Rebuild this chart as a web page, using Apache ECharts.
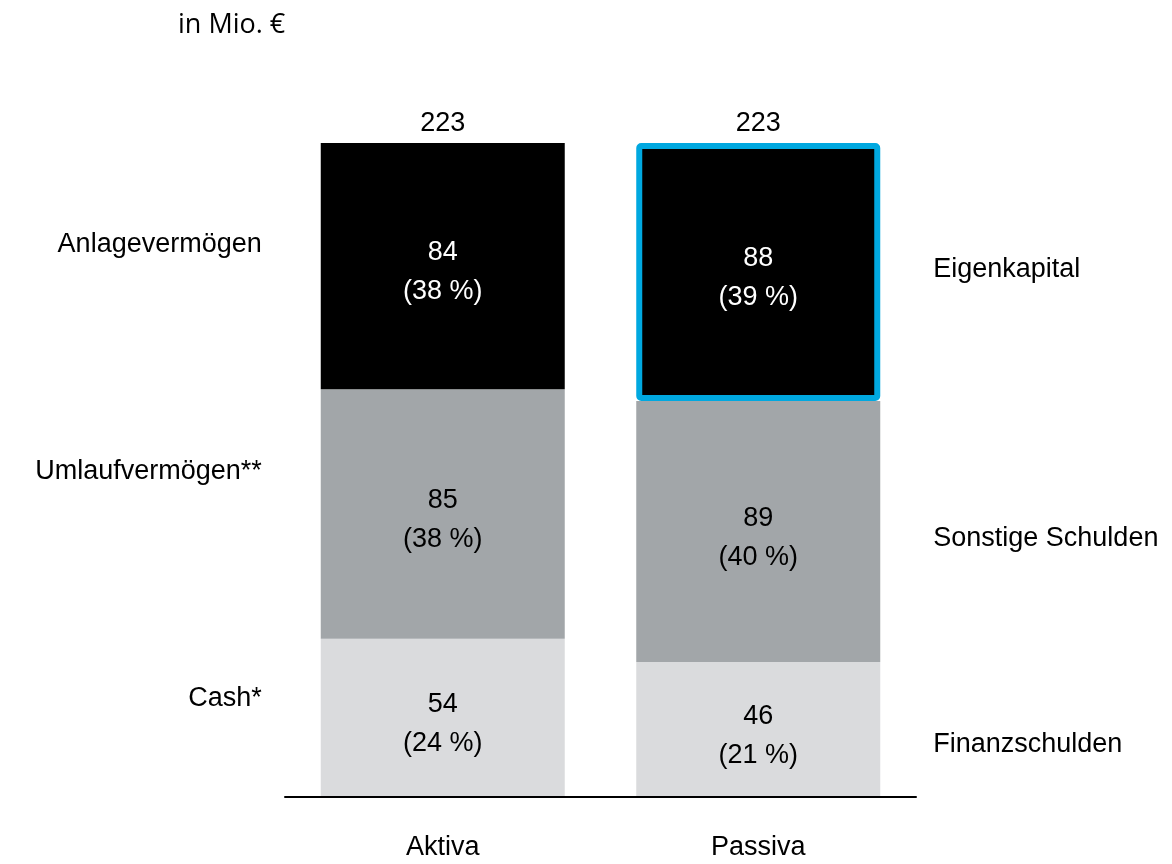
<!DOCTYPE html>
<html>
<head>
<meta charset="utf-8">
<script src="https://cdn.jsdelivr.net/npm/echarts@6/dist/echarts.min.js"></script>
<style>
    html, body { margin: 0; padding: 0; background: #fff; }
    #bilanz { width: 1172px; height: 864px; }
</style>
</head>
<body>
<div id="bilanz"></div>
<script type="text/javascript">
    // Bilanzstruktur in Mio. €
    var categories = ['Aktiva', 'Passiva'];
    // Schichten von unten nach oben
    var bottomValues = [54, 46];
    var middleValues = [85, 89];
    var topValues = [84, 88];
    var bottomPct = [24, 21];
    var middlePct = [38, 40];
    var topPct = [38, 39];
    var totals = [223, 223];
    var aktivaNames = ['Cash*', 'Umlaufvermögen**', 'Anlagevermögen'];
    var passivaNames = ['Finanzschulden', 'Sonstige Schulden', 'Eigenkapital'];

    var font = 'Liberation Sans';
    var barW = 244;

    function layer(name, values, pct, color, textColor) {
        return {
            name: name,
            type: 'bar',
            stack: 'main',
            barWidth: barW,
            barGap: '-100%',
            data: values.map(function (v, i) {
                var item = { value: v };
                // Eigenkapital blau umrandet
                if (name === 'top' && i === 1) {
                    item.itemStyle = { borderColor: '#00a8e0', borderWidth: 6, borderRadius: 2 };
                }
                return item;
            }),
            itemStyle: { color: color },
            label: {
                show: true,
                position: 'inside',
                color: textColor,
                fontFamily: font,
                fontSize: 27,
                lineHeight: 39,
                offset: [0, 6],
                formatter: function (p) {
                    return p.value + '\n(' + pct[p.dataIndex] + ' %)';
                }
            },
            emphasis: { disabled: true },
            silent: true
        };
    }

    // unsichtbare Schichten nur für die Beschriftung links/rechts
    var leftOffsets = [[0, -19], [0, -42], [0, -22]];
    var rightOffsets = [[0, 15], [0, 7], [0, -2]];
    function sideLayer(values, idx) {
        return {
            type: 'bar',
            stack: 'side',
            barWidth: barW,
            barGap: '-100%',
            itemStyle: { color: 'rgba(0,0,0,0)' },
            data: values.map(function (v, i) {
                return {
                    value: v,
                    label: i === 0
                        ? { position: 'left', distance: 59, offset: leftOffsets[idx], formatter: aktivaNames[idx] }
                        : { position: 'right', distance: 53, offset: rightOffsets[idx], formatter: passivaNames[idx] }
                };
            }),
            label: { show: true, color: '#000', fontFamily: font, fontSize: 27 },
            emphasis: { disabled: true },
            silent: true
        };
    }

    var chart = echarts.init(document.getElementById('bilanz'));
    chart.setOption({
        animation: false,
        title: {
            text: 'in Mio. €',
            left: 173,
            top: 7,
            textStyle: { fontFamily: 'Open Sans', fontSize: 27, fontWeight: 'normal', color: '#000' }
        },
        grid: { left: 285, right: 256, top: 143, bottom: 67 },
        xAxis: {
            type: 'category',
            data: categories,
            z: 10,
            axisLine: { lineStyle: { color: '#000', width: 2 } },
            axisTick: { show: false },
            axisLabel: { margin: 37, color: '#000', fontFamily: font, fontSize: 27 }
        },
        yAxis: {
            type: 'value',
            min: 0,
            max: 223,
            show: false,
            splitLine: { show: false }
        },
        series: [
            layer('bottom', bottomValues, bottomPct, '#dadbdd', '#000'),
            layer('middle', middleValues, middlePct, '#a2a6a9', '#000'),
            layer('top', topValues, topPct, '#000000', '#fff'),
            {
                name: 'Summe',
                type: 'bar',
                stack: 'main',
                barWidth: barW,
                barGap: '-100%',
                data: [0, 0],
                itemStyle: { color: 'rgba(0,0,0,0)' },
                label: {
                    show: true,
                    position: 'top',
                    distance: 6,
                    color: '#000',
                    fontFamily: font,
                    fontSize: 27,
                    formatter: function (p) { return totals[p.dataIndex]; }
                },
                silent: true
            },
            sideLayer([bottomValues[0], bottomValues[1]], 0),
            sideLayer([middleValues[0], middleValues[1]], 1),
            sideLayer([topValues[0], topValues[1]], 2)
        ]
    });
</script>
</body>
</html>
